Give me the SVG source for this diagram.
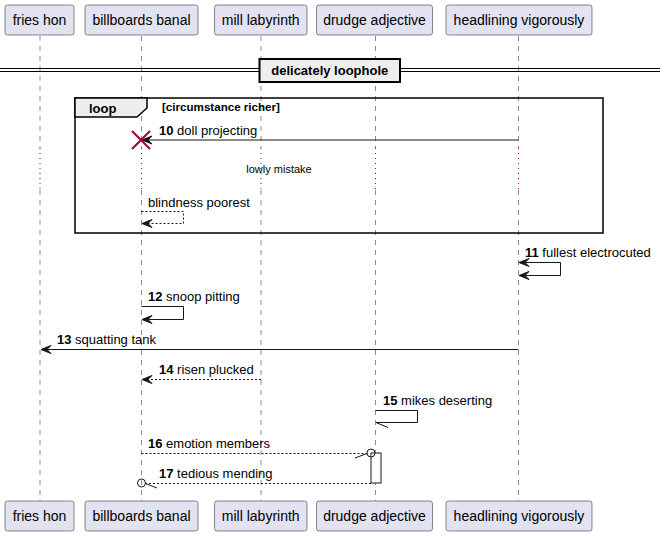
<svg xmlns="http://www.w3.org/2000/svg" width="665" height="536" viewBox="0 0 665 536">
<style>
text{font-family:"Liberation Sans",Arial,sans-serif;fill:#000}
.pbox{fill:#E2E2F0;stroke:#181818;stroke-width:0.5}
.pt{font-size:14px;text-anchor:middle}
.life{stroke:#181818;stroke-width:0.5;stroke-dasharray:5,5;fill:none}
.delay{stroke:#A80036;stroke-width:1;stroke-dasharray:1,4;fill:none}
.msg{stroke:#181818;stroke-width:1;fill:none}
.dash{stroke:#181818;stroke-width:1;fill:none;stroke-dasharray:2,2}
.ah{fill:#181818;stroke:#181818;stroke-width:1}
.ml{font-size:13px}
.b{font-weight:bold}
</style>
<g id="lifelines">
<path class="life" d="M40 36V148M40 190V501"/>
<path class="life" d="M141.5 36V148M141.5 190V501"/>
<path class="life" d="M261 36V148M261 190V501"/>
<path class="life" d="M375.5 36V148M375.5 190V501"/>
<path class="life" d="M518.5 36V148M518.5 190V501"/>
<path class="delay" d="M40 148V190M141.5 148V190M261 148V190M375.5 148V190M518.5 148V190"/>
</g>
<g id="p-fries">
<rect class="pbox" x="5" y="5" width="69" height="30" rx="2.5"/>
<text class="pt" x="39.5" y="25">fries hon</text>
<rect class="pbox" x="5" y="501" width="69" height="30" rx="2.5"/>
<text class="pt" x="39.5" y="521">fries hon</text>
</g>
<g id="p-billboards">
<rect class="pbox" x="85" y="5" width="113" height="30" rx="2.5"/>
<text class="pt" x="141.5" y="25">billboards banal</text>
<rect class="pbox" x="85" y="501" width="113" height="30" rx="2.5"/>
<text class="pt" x="141.5" y="521">billboards banal</text>
</g>
<g id="p-mill">
<rect class="pbox" x="214.5" y="5" width="92.5" height="30" rx="2.5"/>
<text class="pt" x="260.75" y="25">mill labyrinth</text>
<rect class="pbox" x="214.5" y="501" width="92.5" height="30" rx="2.5"/>
<text class="pt" x="260.75" y="521">mill labyrinth</text>
</g>
<g id="p-drudge">
<rect class="pbox" x="316.5" y="5" width="116" height="30" rx="2.5"/>
<text class="pt" x="374.5" y="25">drudge adjective</text>
<rect class="pbox" x="316.5" y="501" width="116" height="30" rx="2.5"/>
<text class="pt" x="374.5" y="521">drudge adjective</text>
</g>
<g id="p-headlining">
<rect class="pbox" x="446" y="5" width="146" height="30" rx="2.5"/>
<text class="pt" x="519" y="25">headlining vigorously</text>
<rect class="pbox" x="446" y="501" width="146" height="30" rx="2.5"/>
<text class="pt" x="519" y="521">headlining vigorously</text>
</g>
<g id="divider">
<path d="M0 68.5H660M0 71.5H660" stroke="#000" stroke-width="1" fill="none"/>
<rect x="259.5" y="59" width="140.5" height="23" fill="#EEEEEE" stroke="#000" stroke-width="2"/>
<text x="329.75" y="75" font-size="13" font-weight="bold" text-anchor="middle">delicately loophole</text>
</g>
<g id="loop">
<rect x="75" y="98" width="528" height="135" fill="none" stroke="#000" stroke-width="1.5"/>
<path d="M75 98H147V108L137 117H75Z" fill="#EEEEEE" stroke="#000" stroke-width="1.5"/>
<text x="89" y="113" font-size="13" font-weight="bold">loop</text>
<text x="162" y="111" font-size="11.6" font-weight="bold">[circumstance richer]</text>
</g>
<g id="connectors">
<!-- 10 -->
<line class="msg" x1="518.5" y1="140" x2="142" y2="140"/>
<polygon class="ah" points="142,140 152,136 148,140 152,144"/>
<path d="M132 131L150 149M150 131L132 149" stroke="#A80036" stroke-width="2"/>
<text class="ml" x="159" y="135"><tspan class="b">10</tspan> doll projecting</text>
<text x="279" y="173" font-size="11" text-anchor="middle">lowly mistake</text>
<!-- blindness poorest -->
<path class="dash" d="M141.5 211.5H183.5V223.5H142"/>
<polygon class="ah" points="142,223.5 152,219.5 148,223.5 152,227.5"/>
<text class="ml" x="148" y="207">blindness poorest</text>
<!-- 11 -->
<path class="msg" d="M519 262.5H560.5V275.5H519"/>
<polygon class="ah" points="519,262.5 529,258.5 525,262.5 529,266.5"/>
<polygon class="ah" points="519,275.5 529,271.5 525,275.5 529,279.5"/>
<text class="ml" x="525" y="257"><tspan class="b">11</tspan> fullest electrocuted</text>
<!-- 12 -->
<path class="msg" d="M141.5 306.5H183.5V319.5H142"/>
<polygon class="ah" points="142,319.5 152,315.5 148,319.5 152,323.5"/>
<text class="ml" x="148" y="301"><tspan class="b">12</tspan> snoop pitting</text>
<!-- 13 -->
<line class="msg" x1="518.5" y1="349.5" x2="41" y2="349.5"/>
<polygon class="ah" points="41,349.5 51,345.5 47,349.5 51,353.5"/>
<text class="ml" x="57" y="344"><tspan class="b">13</tspan> squatting tank</text>
<!-- 14 -->
<line class="dash" x1="261" y1="379.5" x2="142" y2="379.5"/>
<polygon class="ah" points="142,379.5 152,375.5 148,379.5 152,383.5"/>
<text class="ml" x="159" y="374"><tspan class="b">14</tspan> risen plucked</text>
<!-- 15 -->
<path class="msg" d="M375.5 410.5H417.5V422.5H376"/>
<line class="msg" x1="376" y1="422.5" x2="388" y2="427.5"/>
<text class="ml" x="383" y="405"><tspan class="b">15</tspan> mikes deserting</text>
<!-- activation -->
<rect x="371" y="453" width="10" height="30" fill="#FFFFFF" stroke="#181818" stroke-width="1"/>
<!-- 16 -->
<line class="dash" x1="141.5" y1="453.5" x2="367" y2="453.5"/>
<line class="msg" x1="355" y1="458" x2="367" y2="453.5"/>
<circle cx="371" cy="453" r="4" fill="none" stroke="#181818" stroke-width="1"/>
<text class="ml" x="148" y="448"><tspan class="b">16</tspan> emotion members</text>
<!-- 17 -->
<line class="dash" x1="371" y1="483.5" x2="145.5" y2="483.5"/>
<line class="msg" x1="145.5" y1="483.5" x2="157" y2="488"/>
<circle cx="141.5" cy="483" r="4" fill="none" stroke="#181818" stroke-width="1"/>
<text class="ml" x="159" y="478"><tspan class="b">17</tspan> tedious mending</text>
</g>
</svg>
